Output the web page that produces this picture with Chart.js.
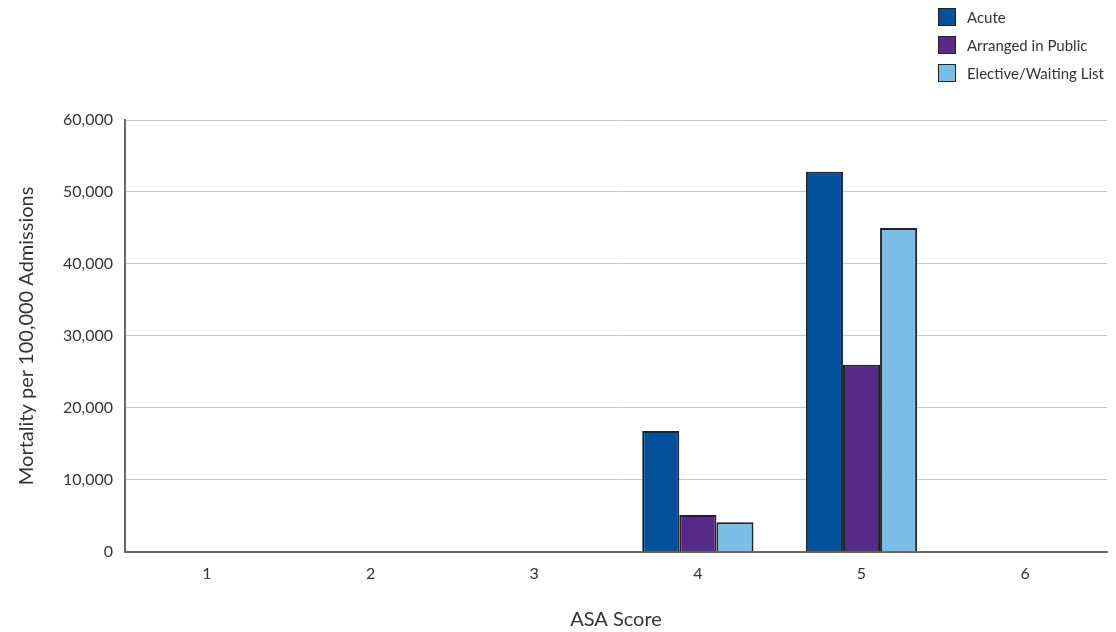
<!DOCTYPE html>
<html>
<head>
<meta charset="utf-8">
<script src="https://cdn.jsdelivr.net/npm/chart.js@4"></script>
<style>
  html, body { margin: 0; padding: 0; background: #fff; }
  #wrap { position: relative; width: 1116px; height: 632px; }
  #legend { position: absolute; left: 938px; top: 3px; font-family: "Lato", "Open Sans", sans-serif; font-size: 15px; color: #333; }
  #legend div { display: flex; align-items: center; height: 28px; }
  #legend span.box { width: 16px; height: 16px; border: 1.5px solid #222; margin-right: 11px; display: inline-block; }
</style>
</head>
<body>
<div id="wrap">
  <canvas id="chart" width="1116" height="632"></canvas>
  <div id="legend"></div>
</div>
<script>
  const categories = ["1", "2", "3", "4", "5", "6"];
  const acute = [0, 0, 0, 16800, 52800, 0];
  const arranged = [0, 0, 0, 5100, 26000, 0];
  const elective = [0, 0, 0, 4100, 45000, 0];
  const yTicks = [0, 10000, 20000, 30000, 40000, 50000, 60000];

  const seriesNames = ["Acute", "Arranged in Public", "Elective/Waiting List"];
  const colours = ["#03519b", "#562a8a", "#7bbde6"];
  const fontFamily = '"Lato", "Open Sans", sans-serif';

  const datasets = [acute, arranged, elective].map((d, i) => ({
    label: seriesNames[i],
    data: d,
    backgroundColor: colours[i],
    borderColor: "#222",
    borderWidth: 2,
    borderSkipped: "bottom",
    categoryPercentage: 0.68,
    barPercentage: 1,
  }));

  // legend on the right, stacked vertically
  const legend = document.getElementById("legend");
  legend.innerHTML = datasets
    .map((d) => `<div><span class="box" style="background:${d.backgroundColor}"></span>${d.label}</div>`)
    .join("");

  new Chart(document.getElementById("chart"), {
    type: "bar",
    data: { labels: categories, datasets },
    options: {
      responsive: false,
      animation: false,
      layout: { padding: { top: 120, right: 9, left: 15, bottom: 0 } },
      plugins: { legend: { display: false }, tooltip: { enabled: false } },
      scales: {
        x: {
          grid: { display: false, drawTicks: false },
          border: { display: true, color: "#666", width: 2 },
          ticks: { color: "#333", font: { family: fontFamily, size: 16 }, padding: 12 },
          title: { display: true, text: "ASA Score", color: "#333", font: { family: fontFamily, size: 20 }, padding: { top: 13, bottom: 0 } },
        },
        y: {
          min: 0,
          max: 60000,
          afterBuildTicks: (axis) => { axis.ticks = yTicks.map((v) => ({ value: v })); },
          grid: { color: "#c8c8c8", lineWidth: 1, drawTicks: false },
          border: { display: true, color: "#666", width: 2 },
          ticks: {
            color: "#333",
            font: { family: fontFamily, size: 16 },
            padding: 12,
            callback: (v) => v.toLocaleString("en-US"),
          },
          title: { display: true, text: "Mortality per 100,000 Admissions", color: "#333", font: { family: fontFamily, size: 20 }, padding: { top: 0, bottom: 12 } },
        },
      },
    },
  });
</script>
</body>
</html>
